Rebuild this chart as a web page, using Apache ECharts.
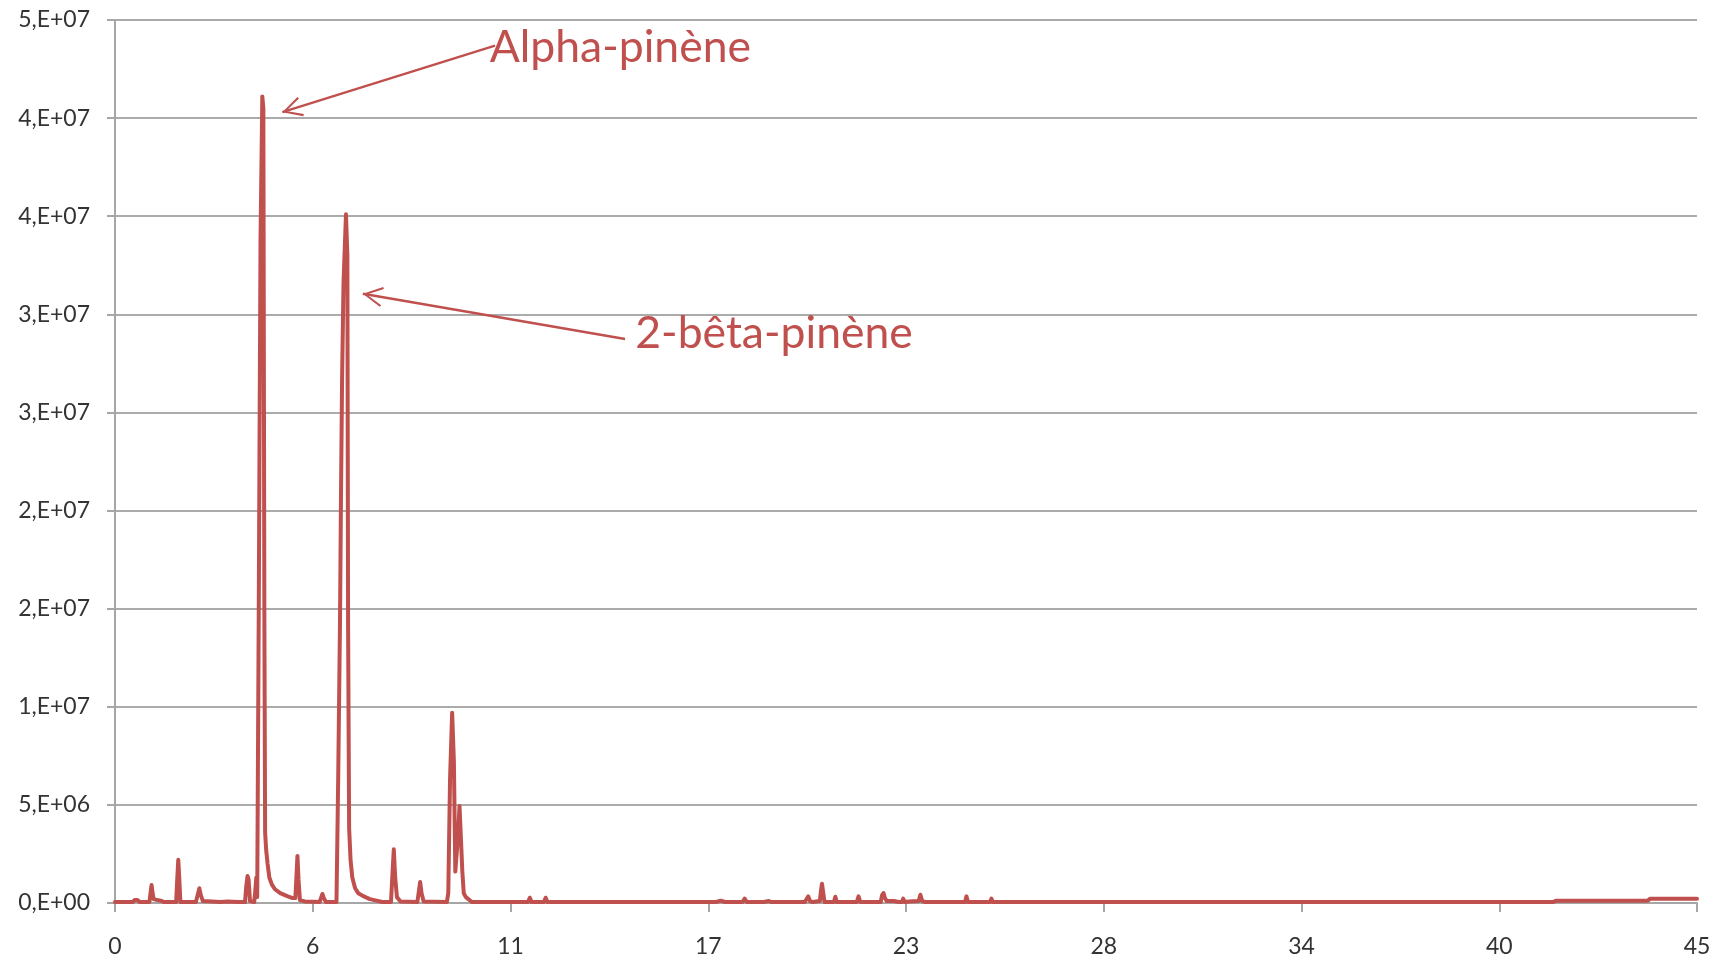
<!DOCTYPE html>
<html>
<head>
<meta charset="utf-8">
<script src="https://cdn.jsdelivr.net/npm/echarts@6/dist/echarts.min.js"></script>
<style>
html,body{margin:0;padding:0;background:#fff;}
#chart{width:1722px;height:960px;}
</style>
</head>
<body>
<div id="chart"></div>
<script>
// Retention time (min)
const times = [
  0, 0.5, 0.56, 0.6, 0.64, 0.7, 0.98, 1.01, 1.04, 1.07, 1.1, 1.2, 1.3, 1.4,
  1.74, 1.77, 1.80, 1.83, 1.86, 2.3, 2.35, 2.40, 2.44, 2.5, 3.0, 3.2, 3.5,
  3.70, 3.73, 3.77, 3.80, 3.84, 3.96, 3.99, 4.02, 4.045, 4.06, 4.09, 4.11, 4.14, 4.19, 4.22,
  4.25, 4.27, 4.30, 4.34, 4.39, 4.46, 4.55, 4.70, 4.90, 5.05, 5.13, 5.16, 5.19, 5.22, 5.26, 5.4,
  5.82, 5.86, 5.90, 5.94, 6.0, 6.30, 6.35, 6.40, 6.43, 6.46, 6.50, 6.57, 6.61, 6.63,
  6.66, 6.70, 6.75, 6.83, 6.92, 7.06, 7.25, 7.44, 7.6,
  7.85, 7.89, 7.93, 7.97, 8.02, 8.06, 8.12, 8.6, 8.64, 8.68, 8.72, 8.78,
  9.44, 9.48, 9.53, 9.59, 9.64, 9.68, 9.72, 9.76, 9.80, 9.84, 9.88, 9.92, 9.98, 10.05, 10.15,
  11.1, 11.15, 11.2, 11.75, 11.8, 11.85, 12.2, 12.25, 12.3,
  17.1, 17.23, 17.35, 17.85, 17.91, 17.97, 18.35, 18.40, 18.45, 18.6, 18.66, 18.72,
  19.08, 19.12, 19.2, 19.5, 19.55, 19.62, 19.67, 19.72, 19.77, 19.85,
  20.05, 20.08, 20.11, 20.14, 20.18, 20.45, 20.49, 20.53, 21.1, 21.15, 21.2,
  21.78, 21.82, 21.86, 21.9, 21.95, 22.15, 22.3, 22.38, 22.42, 22.46, 22.6,
  22.86, 22.91, 22.96, 23.05, 24.18, 24.22, 24.26, 24.89, 24.93, 24.97,
  40.9, 41.0, 43.6, 43.67, 45
];
// Signal intensity (counts)
const intensities = [
  0.05e6, 0.05e6, 0.15e6, 0.25e6, 0.15e6, 0.05e6, 0.05e6, 0.5e6, 0.92e6, 0.5e6, 0.2e6, 0.15e6, 0.12e6, 0.05e6,
  0.05e6, 1.2e6, 2.2e6, 1.2e6, 0.05e6, 0.05e6, 0.4e6, 0.75e6, 0.4e6, 0.1e6, 0.05e6, 0.08e6, 0.05e6,
  0.05e6, 0.8e6, 1.38e6, 1.2e6, 0.1e6, 0.05e6, 0.6e6, 1.3e6, 0.3e6, 5.2e6, 15.2e6, 23.1e6, 33.9e6, 41.1e6, 40.5e6,
  14e6, 3.6e6, 2.7e6, 2.0e6, 1.3e6, 0.95e6, 0.7e6, 0.5e6, 0.35e6, 0.25e6, 0.25e6, 1.3e6, 2.4e6, 1.2e6, 0.15e6, 0.08e6,
  0.05e6, 0.25e6, 0.46e6, 0.25e6, 0.05e6, 0.05e6, 6.5e6, 14.3e6, 21.1e6, 26.8e6, 31.6e6, 35.1e6, 33.0e6, 14.3e6,
  3.8e6, 2.2e6, 1.3e6, 0.75e6, 0.5e6, 0.35e6, 0.2e6, 0.12e6, 0.05e6,
  0.05e6, 1.4e6, 2.74e6, 1.3e6, 0.3e6, 0.3e6, 0.08e6, 0.05e6, 0.55e6, 1.07e6, 0.5e6, 0.08e6,
  0.05e6, 0.5e6, 6.3e6, 9.7e6, 7.2e6, 1.6e6, 1.7e6, 3.5e6, 4.94e6, 4.9e6, 1.6e6, 0.5e6, 0.3e6, 0.2e6, 0.05e6,
  0.05e6, 0.12e6, 0.05e6, 0.05e6, 0.27e6, 0.05e6, 0.05e6, 0.27e6, 0.05e6,
  0.05e6, 0.12e6, 0.05e6, 0.05e6, 0.22e6, 0.05e6, 0.05e6, 0.1e6, 0.05e6, 0.1e6, 0.05e6, 0.05e6,
  0.05e6, 0.1e6, 0.05e6, 0.05e6, 0.1e6, 0.05e6, 0.1e6, 0.34e6, 0.1e6, 0.05e6,
  0.1e6, 0.6e6, 0.98e6, 0.6e6, 0.05e6, 0.05e6, 0.32e6, 0.05e6, 0.05e6, 0.34e6, 0.05e6,
  0.05e6, 0.4e6, 0.51e6, 0.25e6, 0.1e6, 0.1e6, 0.05e6, 0.05e6, 0.22e6, 0.05e6, 0.08e6,
  0.1e6, 0.42e6, 0.1e6, 0.05e6, 0.05e6, 0.34e6, 0.05e6, 0.05e6, 0.22e6, 0.05e6,
  0.05e6, 0.12e6, 0.12e6, 0.22e6, 0.22e6
];
const xTickLabels = ['0', '6', '11', '17', '23', '28', '34', '40', '45'];
const yTickLabels = ['0,E+00', '5,E+06', '1,E+07', '2,E+07', '2,E+07', '3,E+07', '3,E+07', '4,E+07', '4,E+07', '5,E+07'];

// Annotations: label, text anchor [time, intensity], arrow tip [time, intensity]
const annotationNames = ['Alpha-pinène', '2-bêta-pinène'];
const annotationTextAt = [[10.66, 4.36e7], [14.80, 2.903e7]];
const annotationArrowFrom = [[10.81, 4.369e7], [14.51, 2.874e7]];
const annotationArrowTo = [[4.76, 4.03e7], [7.05, 3.105e7]];

const RED = '#C0504D';
const X_MAX = 45, X_STEP = 45 / 8;
const Y_MAX = 4.5e7, Y_STEP = 5e6;

const seriesData = times.map((t, i) => [t, intensities[i]]);
const chevron = 'path://M10,0 L20,18.5 L18.2,19.6 L10,3.9 L1.8,19.6 L0,18.5 Z';

const chart = echarts.init(document.getElementById('chart'), null, {renderer: 'canvas'});
chart.setOption({
  animation: false,
  backgroundColor: '#ffffff',
  grid: {left: 115, right: 25, top: 20, bottom: 57, containLabel: false},
  xAxis: {
    type: 'value', min: 0, max: X_MAX, interval: X_STEP,
    axisLine: {show: true, lineStyle: {color: '#A6A6A6', width: 2}},
    axisTick: {show: true, length: 9, lineStyle: {color: '#A6A6A6', width: 2}},
    splitLine: {show: false},
    axisLabel: {
      margin: 32, color: '#333333', fontFamily: 'Lato', fontSize: 23,
      formatter: v => xTickLabels[Math.round(v / X_STEP)]
    }
  },
  yAxis: {
    type: 'value', min: 0, max: Y_MAX, interval: Y_STEP,
    axisLine: {show: true, lineStyle: {color: '#A6A6A6', width: 2}},
    axisTick: {show: true, length: 8, lineStyle: {color: '#A6A6A6', width: 2}},
    splitLine: {show: true, lineStyle: {color: '#ABABAB', width: 2}},
    axisLabel: {
      margin: 25, color: '#333333', fontFamily: 'Lato', fontSize: 23,
      formatter: v => yTickLabels[Math.round(v / Y_STEP)]
    }
  },
  series: [{
    type: 'line',
    data: seriesData,
    showSymbol: false,
    smooth: false,
    lineStyle: {color: RED, width: 4, join: 'round', cap: 'round'},
    itemStyle: {color: RED},
    markLine: {
      silent: true,
      symbol: ['none', chevron],
      symbolSize: [20, 20],
      symbolOffset: [0, [0, 10]],
      label: {show: false},
      lineStyle: {color: RED, width: 2.4, type: 'solid'},
      data: annotationArrowFrom.map((from, i) => [
        {coord: from},
        {coord: annotationArrowTo[i]}
      ])
    },
    markPoint: {
      silent: true,
      symbol: 'circle',
      symbolSize: 0,
      label: {
        show: true, position: 'right', distance: 0,
        color: RED, fontFamily: 'Lato', fontSize: 44.5,
        formatter: p => p.name
      },
      data: annotationNames.map((n, i) => ({name: n, coord: annotationTextAt[i]}))
    }
  }]
});
</script>
</body>
</html>
